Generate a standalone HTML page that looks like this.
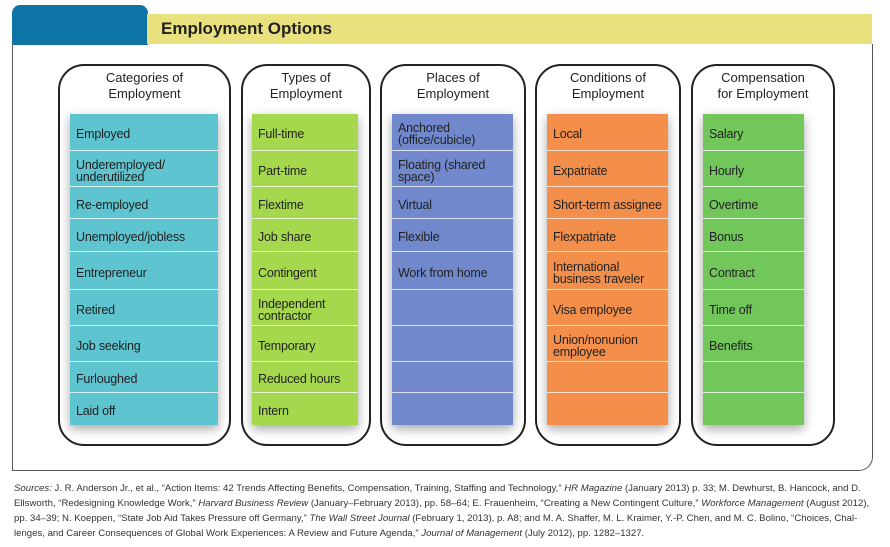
<!DOCTYPE html>
<html><head><style>
body{margin:0;width:890px;height:547px;background:#fff;position:relative;overflow:hidden;font-family:"Liberation Sans",sans-serif}
.a{position:absolute}
.col{position:absolute;top:64px;height:382px;border:2.5px solid #222;border-radius:26px;box-sizing:border-box}
.t{position:absolute;top:70px;text-align:center;font-size:13px;line-height:16px;color:#222}
.blk{position:absolute;top:114px;height:311px;box-shadow:0 4px 10px rgba(0,0,0,.35)}
.r{position:absolute;left:0;right:0;font-size:12.5px;letter-spacing:-0.2px;line-height:12px;color:#222;padding-left:6px;padding-top:4px;display:flex;align-items:center;box-sizing:border-box;border-bottom:1.5px solid rgba(255,255,255,.75);white-space:nowrap}
.r:last-child{border-bottom:none}
.fn{position:absolute;left:14px;top:481px;font-size:9.6px;line-height:15px;color:#333;width:875px;white-space:nowrap}
</style></head><body>
<div class="a" style="left:12px;top:5px;width:136px;height:40px;background:#0e74a6;border-radius:8px 8px 0 0"></div>
<div class="a" style="left:147px;top:14px;width:725px;height:30px;background:#e9e07e"></div>
<div class="a" style="left:161px;top:19px;font-size:17px;font-weight:bold;color:#222">Employment Options</div>
<div class="a" style="left:12px;top:44px;width:861px;height:427px;border:1px solid #555;border-top:none;border-radius:0 0 14px 0;box-sizing:border-box"></div>

<div class="col" style="left:58px;width:173px"></div>
<div class="col" style="left:241px;width:130px"></div>
<div class="col" style="left:380px;width:146px"></div>
<div class="col" style="left:535px;width:146px"></div>
<div class="col" style="left:691px;width:144px"></div>

<div class="t" style="left:58px;width:173px">Categories of<br>Employment</div>
<div class="t" style="left:241px;width:130px">Types of<br>Employment</div>
<div class="t" style="left:380px;width:146px">Places of<br>Employment</div>
<div class="t" style="left:535px;width:146px">Conditions of<br>Employment</div>
<div class="t" style="left:691px;width:144px">Compensation<br>for Employment</div>

<div id="b1" class="blk" style="left:70px;width:148px;background:#5ec4d0"></div>
<div id="b2" class="blk" style="left:252px;width:106px;background:#a6d84e"></div>
<div id="b3" class="blk" style="left:392px;width:121px;background:#7189cc"></div>
<div id="b4" class="blk" style="left:547px;width:121px;background:#f38f4a"></div>
<div id="b5" class="blk" style="left:703px;width:101px;background:#72c75a"></div>

<script>
var b=[114,151,187,219,252,290,326,362,393,425];
var d={b1:["Employed","Underemployed/<br>underutilized","Re-employed","Unemployed/jobless","Entrepreneur","Retired","Job seeking","Furloughed","Laid off"],
b2:["Full-time","Part-time","Flextime","Job share","Contingent","Independent<br>contractor","Temporary","Reduced hours","Intern"],
b3:["Anchored<br>(office/cubicle)","Floating (shared<br>space)","Virtual","Flexible","Work from home","","","",""],
b4:["Local","Expatriate","Short-term assignee","Flexpatriate","International<br>business traveler","Visa employee","Union/nonunion<br>employee","",""],
b5:["Salary","Hourly","Overtime","Bonus","Contract","Time off","Benefits","",""]};
for(var k in d){var el=document.getElementById(k),h="";for(var i=0;i<9;i++){h+='<div class="r" style="top:'+(b[i]-114)+'px;height:'+(b[i+1]-b[i])+'px"><span>'+d[k][i]+'</span></div>';}el.innerHTML=h;}
</script>

<div class="fn"><i>Sources:</i> J. R. Anderson Jr., et al., “Action Items: 42 Trends Affecting Benefits, Compensation, Training, Staffing and Technology,” <i>HR Magazine</i> (January 2013) p. 33; M. Dewhurst, B. Hancock, and D.<br>Ellsworth, “Redesigning Knowledge Work,” <i>Harvard Business Review</i> (January–February 2013), pp. 58–64; E. Frauenheim, “Creating a New Contingent Culture,” <i>Workforce Management</i> (August 2012),<br>pp. 34–39; N. Koeppen, “State Job Aid Takes Pressure off Germany,” <i>The Wall Street Journal</i> (February 1, 2013), p. A8; and M. A. Shaffer, M. L. Kraimer, Y.-P. Chen, and M. C. Bolino, “Choices, Chal-<br>lenges, and Career Consequences of Global Work Experiences: A Review and Future Agenda,” <i>Journal of Management</i> (July 2012), pp. 1282–1327.</div>
</body></html>
